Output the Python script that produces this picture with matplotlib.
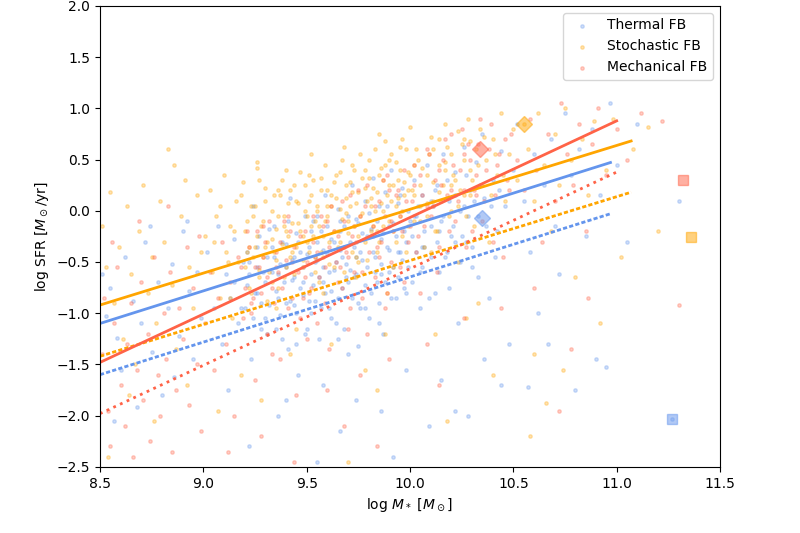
import matplotlib
matplotlib.use('Agg')
import matplotlib.pyplot as plt

# --- scatter samples (log M*, log SFR) ---
# broad spread of each run
thermal_pts = [
    (8.51, -0.62), (8.55, -0.75), (8.53, -1.03), (8.58, -1.24), (8.62, -0.45), (8.60, -1.55),
    (8.66, -0.88), (8.70, -1.10), (8.72, -0.30), (8.75, -1.38), (8.78, -0.70), (8.80, -1.80),
    (8.83, -0.95), (8.85, -0.52), (8.88, -1.22), (8.90, -0.20), (8.93, -0.78), (8.95, -1.45),
    (8.97, -0.60), (8.99, -1.05), (8.57, -2.05), (8.68, -1.92), (8.92, -0.10), (8.74, -0.15),
    (8.86, -1.62),
    (9.02, -0.40), (9.05, -0.95), (9.07, -0.15), (9.09, -1.30), (9.11, -0.62), (9.13, -0.85),
    (9.15, -0.28), (9.17, -1.10), (9.19, -0.50), (9.21, -0.72), (9.23, -1.45), (9.24, 0.05),
    (9.26, -0.35), (9.28, -0.90), (9.29, -0.60), (9.31, -1.20), (9.32, -0.18), (9.34, -0.45),
    (9.35, -0.78), (9.37, -1.02), (9.38, -0.30), (9.40, -0.55), (9.41, -1.35), (9.42, 0.12),
    (9.43, -0.68), (9.44, -0.92), (9.45, -0.22), (9.46, -1.60), (9.47, -0.40), (9.48, -0.82),
    (9.49, -0.05), (9.50, -1.15), (9.12, -1.75), (9.36, -2.00), (9.22, -2.30), (9.40, -1.85),
    (9.51, -0.35), (9.52, -0.62), (9.53, -0.10), (9.54, -0.88), (9.55, -0.48), (9.56, -1.25),
    (9.57, -0.20), (9.58, -0.70), (9.59, 0.15), (9.60, -0.42), (9.61, -0.95), (9.62, -0.28),
    (9.63, -0.58), (9.64, -1.10), (9.65, 0.02), (9.66, -0.38), (9.67, -0.75), (9.68, -0.15),
    (9.69, -0.52), (9.70, -1.40), (9.71, -0.30), (9.72, 0.25), (9.73, -0.65), (9.74, -0.08),
    (9.75, -0.90), (9.76, -0.40), (9.77, -0.22), (9.78, 0.10), (9.79, -0.55), (9.80, -1.05),
    (9.81, -0.18), (9.82, 0.32), (9.83, -0.45), (9.84, -0.70), (9.85, 0.05), (9.86, -0.28),
    (9.87, -1.20), (9.88, 0.18), (9.89, -0.35), (9.90, -0.60), (9.91, 0.40), (9.92, -0.12),
    (9.93, -0.85), (9.94, 0.08), (9.95, -0.40), (9.96, 0.22), (9.97, -0.20), (9.98, -1.55),
    (9.99, 0.00), (9.58, -1.70), (9.66, -2.15), (9.74, -1.85), (9.86, -1.95), (9.92, -2.40),
    (9.55, -2.45),
    (10.01, -0.25), (10.02, 0.30), (10.03, -0.05), (10.05, -0.60), (10.06, 0.15), (10.07, -0.35),
    (10.08, 0.45), (10.10, -0.15), (10.11, 0.05), (10.12, -0.80), (10.13, 0.25), (10.15, -0.10),
    (10.16, 0.55), (10.17, -0.45), (10.19, 0.10), (10.20, -0.25), (10.22, 0.38), (10.23, -1.10),
    (10.24, 0.00), (10.26, 0.62), (10.27, -0.30), (10.29, 0.20), (10.30, -0.55), (10.32, 0.48),
    (10.33, -0.05), (10.35, 0.75), (10.36, 0.12), (10.38, -0.85), (10.40, 0.30), (10.42, -0.20),
    (10.44, 0.58), (10.46, 0.05), (10.48, -1.30), (10.50, 0.40), (10.15, -1.65), (10.28, -2.00),
    (10.36, -1.45), (10.44, -1.70), (10.09, -2.10), (10.22, -1.95),
    (10.52, 0.85), (10.55, 0.10), (10.58, -0.40), (10.60, 0.55), (10.62, -1.00), (10.65, 0.25),
    (10.68, 0.70), (10.70, -0.15), (10.72, -0.62), (10.75, 0.95), (10.78, 0.35), (10.80, -1.75),
    (10.82, 0.60), (10.85, -0.25), (10.88, 0.80), (10.90, -1.45), (10.92, 0.15), (10.95, -1.52),
    (10.97, 1.05), (11.00, 0.45), (11.05, -0.30), (11.10, 0.85), (11.27, -2.03), (11.30, 0.10),
    (10.57, -1.72), (10.67, -1.30),
]
# dense main-sequence core
thermal_core = [
    (9.20, -0.95), (9.21, -0.40), (9.22, -0.62), (9.24, -1.05), (9.25, -0.80), (9.26, -0.55),
    (9.27, -0.25), (9.28, -1.15), (9.30, -0.70), (9.31, -0.45), (9.32, -0.92), (9.33, -0.60),
    (9.34, -0.15), (9.36, -0.85), (9.37, -0.52), (9.38, -1.25), (9.39, -0.70), (9.40, -0.32),
    (9.41, -0.10), (9.42, -0.88), (9.43, -0.48), (9.44, -0.65), (9.45, -1.00), (9.46, -0.30),
    (9.47, -0.75), (9.48, -0.55), (9.49, -1.20), (9.50, -0.42), (9.51, -0.88), (9.52, -0.20),
    (9.53, -0.72), (9.54, -0.50), (9.55, -0.05), (9.56, -0.65), (9.57, -0.95), (9.58, -0.38),
    (9.59, -0.80), (9.60, -0.15), (9.61, -0.60), (9.62, -1.05), (9.63, -0.30), (9.64, -0.50),
    (9.65, -0.85), (9.66, -0.20), (9.67, -0.45), (9.68, -1.15), (9.69, -0.65), (9.70, -0.05),
    (9.71, -0.58), (9.72, -0.85), (9.73, -0.35), (9.74, -0.62), (9.75, -0.12), (9.76, -0.95),
    (9.77, -0.48), (9.78, -0.72), (9.79, -0.25), (9.80, -0.02), (9.81, -0.80), (9.82, -0.40),
    (9.83, -0.60), (9.84, -0.10), (9.85, -0.90), (9.86, -0.52), (9.87, -0.22), (9.88, -0.70),
    (9.89, 0.05), (9.90, -0.38), (9.91, -0.85), (9.92, -0.55), (9.93, -0.25), (9.94, -0.65),
    (9.95, 0.15), (9.96, -0.48), (9.97, -0.75), (9.98, -0.30), (9.99, -0.55), (10.00, -0.10),
    (10.01, -0.70), (10.03, -0.40), (10.04, 0.05), (10.06, -0.55), (10.07, -0.20), (10.09, -0.85),
    (10.10, -0.45), (10.12, 0.20), (10.13, -0.30), (10.14, -0.60), (10.16, -0.05), (10.18, -0.40),
    (10.19, -0.75), (10.21, -0.15), (10.22, 0.15), (10.24, -0.50), (10.25, -0.25), (10.27, 0.35),
    (10.28, -0.05), (10.30, -0.35), (10.31, 0.10), (10.33, -0.65), (10.34, 0.25), (10.37, -0.15),
    (10.39, 0.05), (10.41, -0.45), (10.43, 0.20),
    (9.15, -0.70), (9.18, -0.95), (9.22, -0.50), (9.26, -0.80), (9.30, -1.05), (9.33, -0.35),
    (9.36, -0.62), (9.40, -0.90), (9.44, -0.45), (9.48, -0.70), (9.52, -1.00), (9.55, -0.30),
    (9.58, -0.55), (9.62, -0.78), (9.66, -0.10), (9.70, -0.70), (9.74, -0.45), (9.78, -0.95),
    (9.82, -0.25), (9.86, -0.62), (9.90, -0.15), (9.94, -0.40), (9.98, -0.80), (10.02, -0.05),
    (10.06, -0.35), (10.10, 0.10), (10.14, -0.20), (10.18, 0.30), (10.22, -0.30), (10.26, 0.05),
    (9.45, -1.30), (9.65, -1.25), (9.85, -1.10), (9.35, -1.15), (9.75, -1.32), (10.05, -0.95),
]

stochastic_pts = [
    (8.51, -0.15), (8.53, -0.55), (8.55, 0.18), (8.57, -0.90), (8.59, -0.35), (8.61, -1.25),
    (8.63, 0.05), (8.65, -0.62), (8.67, -1.50), (8.69, -0.20), (8.71, 0.25), (8.73, -0.80),
    (8.75, -0.45), (8.77, -1.10), (8.79, 0.10), (8.81, -0.30), (8.83, 0.60), (8.85, -0.72),
    (8.87, -1.35), (8.89, -0.05), (8.91, 0.30), (8.93, -0.55), (8.95, -0.95), (8.97, 0.15),
    (8.99, -0.40), (8.64, -1.80), (8.76, -2.05), (8.92, -1.70), (8.54, -2.40), (8.86, 0.45),
    (9.01, -0.25), (9.03, 0.20), (9.04, -0.60), (9.06, -0.05), (9.08, -0.85), (9.10, 0.35),
    (9.11, -0.40), (9.13, -0.15), (9.14, -1.05), (9.16, 0.10), (9.17, -0.50), (9.19, 0.28),
    (9.20, -0.20), (9.22, -0.75), (9.23, 0.05), (9.25, -0.35), (9.26, 0.42), (9.27, -0.58),
    (9.29, -0.10), (9.30, 0.22), (9.31, -0.88), (9.33, -0.28), (9.34, 0.15), (9.35, -0.48),
    (9.36, -0.05), (9.38, 0.30), (9.39, -0.65), (9.40, -0.20), (9.41, 0.08), (9.43, -0.40),
    (9.44, 0.25), (9.45, -1.15), (9.46, -0.12), (9.47, 0.38), (9.48, -0.55), (9.49, 0.00),
    (9.18, -1.60), (9.28, -1.85), (9.42, -1.40), (9.07, -1.95),
    (9.50, -0.30), (9.51, 0.10), (9.52, -0.15), (9.53, 0.30), (9.54, -0.45), (9.55, 0.05),
    (9.56, -0.70), (9.57, 0.20), (9.58, -0.25), (9.59, 0.45), (9.60, -0.05), (9.61, -0.52),
    (9.62, 0.15), (9.63, -0.20), (9.64, 0.35), (9.65, -0.35), (9.66, 0.02), (9.67, 0.50),
    (9.68, -0.60), (9.69, 0.12), (9.70, -0.10), (9.71, 0.28), (9.72, -0.40), (9.73, 0.40),
    (9.74, 0.08), (9.75, -0.25), (9.76, 0.55), (9.77, -0.02), (9.78, 0.22), (9.79, -0.48),
    (9.80, 0.32), (9.81, 0.05), (9.82, -0.15), (9.83, 0.60), (9.84, 0.18), (9.85, -0.30),
    (9.86, 0.42), (9.87, 0.00), (9.88, 0.68), (9.89, -0.80), (9.90, 0.25), (9.91, 0.10),
    (9.92, -0.20), (9.93, 0.48), (9.94, 0.30), (9.95, -0.05), (9.96, 0.70), (9.97, 0.15),
    (9.98, -0.40), (9.99, 0.38), (9.62, -1.30), (9.78, -1.55), (9.88, -1.20), (9.70, -2.45),
    (9.84, -1.75),
    (10.01, 0.20), (10.02, -0.10), (10.04, 0.50), (10.05, 0.05), (10.07, -0.35), (10.08, 0.35),
    (10.10, 0.72), (10.11, 0.10), (10.13, -0.20), (10.14, 0.45), (10.16, 0.25), (10.17, 0.85),
    (10.19, -0.05), (10.20, 0.55), (10.22, 0.30), (10.23, -0.50), (10.25, 0.65), (10.26, 0.15),
    (10.28, 0.90), (10.29, 0.40), (10.31, -0.15), (10.32, 0.60), (10.34, 0.80), (10.35, 0.25),
    (10.37, 0.50), (10.38, -0.30), (10.40, 0.70), (10.42, 0.35), (10.44, 0.95), (10.46, 0.10),
    (10.48, 0.55), (10.50, 0.80), (10.12, -1.20), (10.27, -1.05), (10.40, -1.60), (10.18, -2.05),
    (10.33, -0.90),
    (10.52, 0.30), (10.55, 0.85), (10.57, 0.60), (10.60, 0.10), (10.62, 0.95), (10.65, 0.45),
    (10.68, -0.20), (10.70, 0.75), (10.72, 0.25), (10.75, 1.00), (10.78, 0.50), (10.80, -0.65),
    (10.83, 0.70), (10.86, 0.15), (10.89, 0.88), (10.92, -1.10), (10.95, 0.40), (10.98, 0.90),
    (11.02, -0.45), (11.08, 0.60), (11.15, 0.82), (11.20, -0.20), (10.60, -1.40), (10.74, -1.55),
    (10.66, -1.88), (10.58, -2.20),
]
stochastic_core = [
    (9.20, -0.55), (9.21, -0.10), (9.22, -0.35), (9.23, -0.80), (9.24, -0.45), (9.25, 0.05),
    (9.26, -0.25), (9.27, -0.65), (9.28, -0.15), (9.29, -0.45), (9.30, 0.10), (9.31, -0.30),
    (9.32, -0.60), (9.33, 0.00), (9.34, -0.40), (9.35, -0.18), (9.36, -0.75), (9.37, 0.15),
    (9.38, -0.32), (9.39, -0.05), (9.40, -0.55), (9.41, -0.25), (9.42, 0.20), (9.43, -0.12),
    (9.44, -0.62), (9.45, -0.35), (9.46, 0.08), (9.47, -0.20), (9.48, -0.48), (9.49, 0.25),
    (9.50, -0.05), (9.51, -0.40), (9.52, 0.15), (9.53, -0.25), (9.54, -0.60), (9.55, 0.00),
    (9.56, -0.15), (9.57, 0.32), (9.58, -0.45), (9.59, -0.10), (9.60, 0.20), (9.61, -0.30),
    (9.62, 0.05), (9.63, -0.55), (9.64, 0.12), (9.65, -0.20), (9.66, 0.38), (9.67, -0.08),
    (9.68, -0.35), (9.69, 0.25), (9.70, -0.22), (9.71, 0.05), (9.72, 0.45), (9.73, -0.15),
    (9.74, -0.45), (9.75, 0.18), (9.76, -0.05), (9.77, 0.32), (9.78, -0.30), (9.79, 0.10),
    (9.80, 0.50), (9.81, -0.20), (9.82, 0.22), (9.83, 0.00), (9.84, -0.40), (9.85, 0.35),
    (9.86, 0.08), (9.87, -0.15), (9.88, 0.45), (9.89, 0.15), (9.90, -0.10), (9.91, 0.55),
    (9.92, 0.25), (9.93, -0.30), (9.94, 0.12), (9.95, 0.40), (9.96, 0.00), (9.97, 0.28),
    (9.98, 0.60), (9.99, -0.15), (10.00, 0.35), (10.02, 0.15), (10.03, 0.60), (10.05, -0.10),
    (10.06, 0.42), (10.08, 0.08), (10.09, 0.55), (10.11, 0.28), (10.12, -0.20), (10.14, 0.70),
    (10.15, 0.10), (10.17, 0.40), (10.18, 0.62), (10.20, 0.00), (10.21, 0.35), (10.23, 0.78),
    (10.24, 0.20), (10.26, 0.50), (10.27, -0.05), (10.29, 0.68), (10.30, 0.30), (10.33, 0.45),
    (10.36, 0.72), (10.39, 0.15), (10.41, 0.55), (10.45, 0.35),
    (9.05, -0.30), (9.08, 0.05), (9.12, -0.50), (9.15, -0.20), (9.18, 0.15), (9.21, -0.40),
    (9.24, -0.05), (9.27, 0.30), (9.30, -0.35), (9.33, -0.70), (9.36, 0.20), (9.39, -0.15),
    (9.42, -0.45), (9.45, 0.10), (9.48, -0.25), (9.51, 0.35), (9.54, -0.10), (9.57, -0.40),
    (9.60, 0.05), (9.63, 0.28), (9.66, -0.30), (9.69, -0.02), (9.72, 0.18), (9.75, -0.50),
    (9.78, 0.40), (9.81, 0.12), (9.84, -0.20), (9.87, 0.30), (9.90, 0.50), (9.93, 0.05),
    (9.96, -0.25), (9.99, 0.20), (10.02, 0.45), (10.05, 0.25), (10.08, -0.05), (10.11, 0.60),
    (10.14, 0.18), (10.17, 0.48), (10.20, 0.25), (10.23, 0.05), (10.26, 0.70), (10.29, 0.15),
    (9.13, -0.85), (9.35, -0.95), (9.58, -0.80), (9.74, -0.65), (9.92, -0.55), (10.10, -0.40),
    (9.26, 0.48), (9.52, 0.55), (9.68, 0.62), (9.85, 0.75), (10.00, 0.82), (9.40, 0.40),
    (9.95, 0.62),
]

mechanical_pts = [
    (8.51, -1.40), (8.52, -0.85), (8.54, -1.95), (8.55, -2.30), (8.57, -1.10), (8.58, -0.55),
    (8.60, -1.70), (8.62, -2.10), (8.63, -1.30), (8.65, -0.90), (8.66, -2.40), (8.68, -1.55),
    (8.70, -0.70), (8.71, -1.85), (8.73, -1.20), (8.74, -2.25), (8.76, -0.45), (8.78, -1.60),
    (8.79, -2.00), (8.81, -1.00), (8.82, -1.45), (8.84, -0.60), (8.85, -2.35), (8.87, -1.75),
    (8.88, -0.95), (8.90, -1.25), (8.92, -0.35), (8.93, -1.90), (8.95, -0.75), (8.97, -1.50),
    (8.99, -2.15), (8.56, -0.30), (8.69, -0.10), (8.83, 0.05), (8.98, -0.25),
    (9.01, -1.10), (9.03, -0.60), (9.05, -1.55), (9.07, -0.85), (9.09, -0.30), (9.11, -1.30),
    (9.13, -0.70), (9.15, -2.00), (9.17, -0.45), (9.19, -1.05), (9.21, -0.20), (9.23, -0.90),
    (9.25, -1.65), (9.27, -0.55), (9.29, -0.15), (9.31, -1.20), (9.33, -0.75), (9.35, -0.40),
    (9.37, -1.45), (9.39, -0.10), (9.41, -0.95), (9.43, -0.50), (9.45, -1.80), (9.47, -0.25),
    (9.49, -0.65), (9.12, -2.35), (9.28, -2.20), (9.44, -2.45),
    (9.51, -0.80), (9.53, -0.30), (9.55, -1.10), (9.57, -0.05), (9.59, -0.55), (9.61, -1.35),
    (9.63, -0.20), (9.65, -0.70), (9.67, 0.10), (9.69, -0.40), (9.71, -0.95), (9.73, -0.15),
    (9.75, 0.20), (9.77, -0.60), (9.79, -1.20), (9.81, -0.25), (9.83, 0.05), (9.85, -0.45),
    (9.87, 0.30), (9.89, -0.80), (9.91, -0.10), (9.93, 0.15), (9.95, -0.55), (9.97, 0.40),
    (9.99, -0.30), (9.60, -1.75), (9.76, -1.60), (9.90, -1.45), (9.68, -2.10), (9.84, -2.30),
    (10.01, 0.10), (10.03, -0.40), (10.05, 0.35), (10.07, -0.15), (10.09, 0.55), (10.11, 0.05),
    (10.13, -0.60), (10.15, 0.25), (10.17, 0.70), (10.19, -0.20), (10.21, 0.45), (10.23, 0.10),
    (10.25, 0.80), (10.27, -0.35), (10.29, 0.50), (10.31, 0.20), (10.33, 0.65), (10.35, -0.10),
    (10.37, 0.40), (10.39, 0.85), (10.41, 0.15), (10.43, 0.55), (10.45, -0.45), (10.47, 0.30),
    (10.49, 0.75), (10.08, -1.30), (10.26, -1.05), (10.44, -0.95), (10.14, -1.70),
    (10.52, 0.50), (10.55, 0.20), (10.58, 0.90), (10.61, 0.40), (10.64, -0.30), (10.67, 0.75),
    (10.70, 0.10), (10.73, 1.05), (10.76, 0.55), (10.79, 0.25), (10.82, 0.85), (10.85, -0.20),
    (10.88, 0.65), (10.91, 1.00), (10.95, 0.35), (11.00, 0.80), (11.05, 0.50), (11.12, 0.95),
    (11.22, 0.88), (11.30, -0.92), (10.60, -0.75), (10.86, -0.85), (10.78, -1.35), (10.72, -1.95),
]
mechanical_core = [
    (9.20, -0.75), (9.22, -0.35), (9.23, -1.00), (9.25, -0.55), (9.26, -0.20), (9.28, -0.80),
    (9.29, -0.45), (9.31, -0.65), (9.32, -0.10), (9.34, -0.90), (9.35, -0.55), (9.37, -0.30),
    (9.38, -0.75), (9.40, -0.48), (9.41, -0.05), (9.43, -0.85), (9.44, -0.35), (9.46, -0.60),
    (9.47, -1.05), (9.49, -0.20), (9.50, -0.50), (9.52, -0.75), (9.53, -0.05), (9.55, -0.40),
    (9.56, -0.65), (9.58, -0.15), (9.59, -0.90), (9.61, -0.35), (9.62, 0.05), (9.64, -0.50),
    (9.65, -0.25), (9.67, -0.75), (9.68, -0.10), (9.70, -0.45), (9.71, 0.15), (9.73, -0.60),
    (9.74, -0.30), (9.76, -0.05), (9.77, -0.85), (9.79, 0.25), (9.80, -0.40), (9.82, -0.15),
    (9.83, -0.65), (9.85, 0.10), (9.86, -0.30), (9.88, -0.05), (9.89, 0.35), (9.91, -0.50),
    (9.92, -0.20), (9.94, 0.20), (9.95, -0.05), (9.97, -0.70), (9.98, 0.10), (10.00, -0.15),
    (10.02, 0.45), (10.04, -0.25), (10.06, 0.15), (10.08, 0.60), (10.10, -0.05), (10.12, 0.30),
    (10.14, -0.35), (10.16, 0.50), (10.18, 0.15), (10.20, 0.75), (10.22, -0.10), (10.24, 0.40),
    (10.26, 0.20), (10.28, 0.65), (10.30, -0.20), (10.32, 0.35), (10.34, 0.90), (10.36, 0.10),
    (10.38, 0.60), (10.40, -0.30), (10.42, 0.45), (10.46, 0.70), (10.48, 0.20),
    (9.18, -0.55), (9.24, -0.85), (9.30, -0.30), (9.36, -0.60), (9.42, -0.20), (9.48, -0.85),
    (9.54, -0.45), (9.60, -0.10), (9.66, -0.55), (9.72, -0.25), (9.78, 0.05), (9.84, -0.35),
    (9.90, 0.20), (9.96, -0.20), (10.02, 0.25), (10.08, 0.05), (10.14, 0.40), (10.20, 0.20),
    (10.26, 0.55), (10.32, 0.15), (9.50, -1.25), (9.70, -1.15), (9.88, -0.95), (10.05, -0.80),
    (9.33, -1.40),
]

labels = ['Thermal FB', 'Stochastic FB', 'Mechanical FB']
colors = ['cornflowerblue', 'orange', 'tomato']
samples = [thermal_pts + thermal_core,
           stochastic_pts + stochastic_core,
           mechanical_pts + mechanical_core]

# fitted relations: log SFR at log M* = 8.5, slope, end of the fit range
fit_start = [-1.10, -0.92, -1.48]
fit_slope = [0.636, 0.623, 0.943]
fit_xmax = [10.97, 11.07, 11.00]
offset = -0.5  # dotted: same relation shifted down

# median points (diamonds) and extra reference points (squares)
median_x = [10.35, 10.55, 10.34]
median_y = [-0.07, 0.85, 0.60]
ref_x = [11.27, 11.36, 11.32]
ref_y = [-2.03, -0.26, 0.30]

fig = plt.figure(figsize=(8, 5.33), dpi=100)
ax = fig.add_axes([0.125, 0.124, 0.775, 0.865])

for pts, lab, c in zip(samples, labels, colors):
    xs = [p[0] for p in pts]
    ys = [p[1] for p in pts]
    ax.scatter(xs, ys, s=6, color=c, alpha=0.3, label=lab)

for i, c in enumerate(colors):
    xx = [8.5, fit_xmax[i]]
    yy = [fit_start[i], fit_start[i] + fit_slope[i] * (fit_xmax[i] - 8.5)]
    ax.plot(xx, yy, color=c, lw=2)
    if c == 'tomato':
        ax.plot(xx, [y + offset for y in yy], color=c, lw=2, linestyle=':')
    else:
        ax.plot(xx, [y + offset for y in yy], color=c, lw=2, dashes=(1.5, 0.8))

for i, c in enumerate(colors):
    ax.plot(median_x[i], median_y[i], marker='D', ms=8, color=c, alpha=0.5, ls='none')
    ax.plot(ref_x[i], ref_y[i], marker='s', ms=7, color=c, alpha=0.5, ls='none')

ax.set_xlim(8.5, 11.5)
ax.set_ylim(-2.5, 2.0)
ax.set_xlabel(r'log $M_*$ [$M_\odot$]')
ax.set_ylabel(r'log SFR [$M_\odot$/yr]')
ax.legend(loc='upper right')

fig.savefig('out.png', dpi=100)
